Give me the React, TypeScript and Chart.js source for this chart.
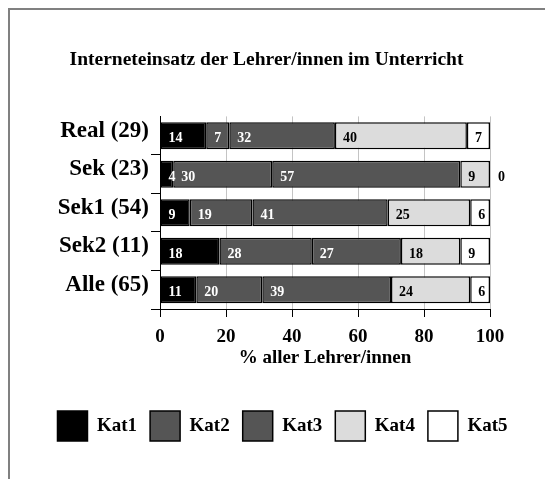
import React, { useEffect, useRef } from "react";
import { Chart, registerables } from "chart.js";

Chart.register(...registerables);

const categories = ["Real (29)", "Sek (23)", "Sek1 (54)", "Sek2 (11)", "Alle (65)"];
const seriesNames = ["Kat1", "Kat2", "Kat3", "Kat4", "Kat5"];
const kat1 = [14, 4, 9, 18, 11];
const kat2 = [7, 30, 19, 28, 20];
const kat3 = [32, 57, 41, 27, 39];
const kat4 = [40, 9, 25, 18, 24];
const kat5 = [7, 0, 6, 9, 6];
const xMin = 0;
const xMax = 100;
const xStep = 20;
const chartTitle = "Interneteinsatz der Lehrer/innen im Unterricht";
const xTitle = "% aller Lehrer/innen";

const fills = ["#000000", "#555555", "#555555", "#dcdcdc", "#ffffff"];
const labelColors = ["#ffffff", "#ffffff", "#ffffff", "#000000", "#000000"];
const FONT = "'Liberation Serif', 'Times New Roman', serif";

const barLabels = {
  id: "barLabels",
  afterDatasetDraw(chart: any, args: any) {
    const ctx = chart.ctx;
    const meta = args.meta;
    const ds = chart.data.datasets[args.index];
    ctx.save();
    ctx.font = `bold 14px ${FONT}`;
    ctx.fillStyle = labelColors[args.index];
    ctx.textAlign = "left";
    ctx.textBaseline = "middle";
    meta.data.forEach((bar: any, i: number) => {
      const p = bar.getProps(["base", "y"], true);
      ctx.fillText(String(ds.data[i]), p.base + 8, p.y + 3);
    });
    ctx.restore();
  },
};

const titleShift = {
  id: "titleShift",
  afterLayout(chart: any) {
    if (chart.titleBlock) {
      chart.titleBlock.left -= 16;
      chart.titleBlock.right -= 16;
    }
  },
};

export default function App() {
  const ref = useRef<HTMLCanvasElement>(null);
  useEffect(() => {
    if (!ref.current) return;
    const series = [kat1, kat2, kat3, kat4, kat5];
    const chart = new Chart(ref.current, {
      type: "bar",
      data: {
        labels: categories,
        datasets: series.map((d, i) => ({
          label: seriesNames[i],
          data: d,
          backgroundColor: fills[i],
          borderColor: "#000000",
          borderWidth: 1.5,
          borderSkipped: false,
          barPercentage: 0.7,
          categoryPercentage: 1,
        })),
      },
      options: {
        indexAxis: "y",
        responsive: false,
        animation: false,
        devicePixelRatio: 1,
        layout: { padding: { left: 10, right: 0, top: 0, bottom: 28 } },
        scales: {
          x: {
            stacked: true,
            min: xMin,
            max: xMax,
            ticks: {
              stepSize: xStep,
              color: "#000",
              padding: 9,
              font: { family: FONT, size: 19, weight: "bold" },
            },
            grid: { color: "#c4c4c4", tickColor: "#000", tickLength: 8, drawTicks: true },
            border: { display: true, color: "#000", width: 1 },
            title: {
              display: true,
              text: xTitle,
              color: "#000",
              font: { family: FONT, size: 19, weight: "bold" },
              padding: { top: 0, bottom: 28.6 },
            },
            afterFit(scale: any) {
              scale.height = 89;
              scale.paddingRight = 55;
            },
          },
          y: {
            stacked: true,
            ticks: {
              color: "#000",
              padding: 2,
              labelOffset: -5,
              font: { family: FONT, size: 23, weight: "bold" },
            },
            grid: {
              offset: true,
              drawOnChartArea: false,
              drawTicks: true,
              tickLength: 9,
              color: "#000",
              tickColor: (c: any) => (c.index === 0 ? "rgba(0,0,0,0)" : "#000"),
            },
            border: { display: true, color: "#000", width: 1 },
            afterFit(scale: any) {
              scale.width = 140;
            },
          },
        },
        plugins: {
          title: {
            display: true,
            text: chartTitle,
            color: "#000",
            font: { family: FONT, size: 19.5, weight: "bold" },
            padding: { top: 38, bottom: 45 },
          },
          legend: {
            position: "bottom",
            labels: {
              color: "#000",
              boxWidth: 30,
              boxHeight: 30,
              padding: 13,
              font: { family: FONT, size: 19, weight: "bold" },
            },
          },
          tooltip: { enabled: false },
        },
      },
      plugins: [barLabels, titleShift],
    } as any);
    return () => chart.destroy();
  }, []);

  return (
    <div
      style={{
        position: "fixed",
        left: 8,
        top: 8,
        width: 537,
        height: 471,
        boxSizing: "border-box",
        borderTop: "2px solid #808080",
        borderLeft: "2px solid #808080",
        background: "#fff",
      }}
    >
      <canvas ref={ref} width={535} height={469} style={{ position: "absolute", left: 0, top: 0 }} />
    </div>
  );
}
